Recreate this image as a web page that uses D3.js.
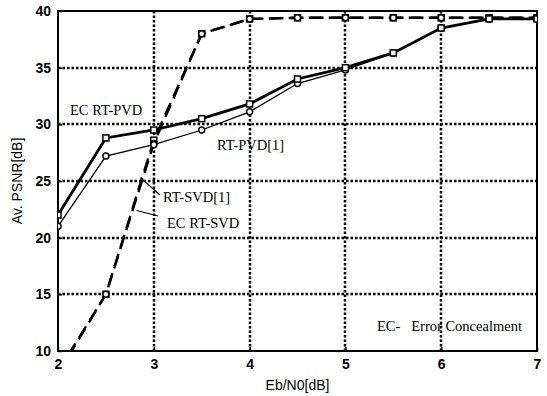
<!DOCTYPE html>
<html>
<head>
<meta charset="utf-8">
<script src="https://cdn.jsdelivr.net/npm/d3@7"></script>
<style>
body { margin: 0; background: #fff; }
svg text { fill: #000; }
</style>
</head>
<body>
<div id="chart"></div>
<script>
// values
const ebn0 = [2, 2.5, 3, 3.5, 4, 4.5, 5, 5.5, 6, 6.5, 7];
const ecRtPvd = [22, 28.8, 29.5, 30.5, 31.8, 34, 35, 36.3, 38.5, 39.3, 39.3];
const rtPvd = [21, 27.2, 28.2, 29.5, 31.1, 33.6, 34.8, 36.3, 38.5, 39.3, 39.3];
const rtSvd = [8, 15, 28.3, 38, 39.3, 39.4, 39.4, 39.4, 39.4, 39.4, 39.4];
const ecRtSvd = [8.2, 15, 28.6, 38, 39.3, 39.4, 39.4, 39.4, 39.4, 39.4, 39.4];
const xTicks = [2, 3, 4, 5, 6, 7];
const yTicks = [10, 15, 20, 25, 30, 35, 40];

const width = 547, height = 396;
const margin = {top: 11, right: 10, bottom: 45, left: 58};

const svg = d3.select('#chart')
	.append('svg')
	.attr('width', width)
	.attr('height', height);

const xScale = d3.scaleLinear()
	.domain([2, 7])
	.range([margin.left, width - margin.right]);

const yScale = d3.scaleLinear()
	.domain([10, 40])
	.range([height - margin.bottom, margin.top]);

svg.append('defs').append('clipPath')
	.attr('id', 'plot')
	.append('rect')
	.attr('x', margin.left)
	.attr('y', margin.top)
	.attr('width', width - margin.left - margin.right)
	.attr('height', height - margin.top - margin.bottom);

// dotted grid
svg.append('g')
	.selectAll('line')
	.data(xTicks.slice(1, -1))
	.enter()
	.append('line')
	.attr('x1', d => Math.round(xScale(d)))
	.attr('x2', d => Math.round(xScale(d)))
	.attr('y1', yScale(10))
	.attr('y2', yScale(40))
	.attr('stroke', '#000')
	.attr('stroke-width', 2.5)
	.attr('stroke-dasharray', '2.5,2');

svg.append('g')
	.selectAll('line')
	.data(yTicks.slice(1, -1))
	.enter()
	.append('line')
	.attr('x1', xScale(2))
	.attr('x2', xScale(7))
	.attr('y1', d => Math.round(yScale(d)))
	.attr('y2', d => Math.round(yScale(d)))
	.attr('stroke', '#000')
	.attr('stroke-width', 2.5)
	.attr('stroke-dasharray', '2.5,2');

// axes
const xAxis = g => g
	.attr('transform', `translate(0,${yScale(10)})`)
	.call(d3.axisBottom(xScale).tickValues(xTicks).tickSize(-4).tickPadding(8).tickFormat(d3.format('d')))
	.call(g => g.select('.domain').remove());

const yAxis = g => g
	.attr('transform', `translate(${xScale(2)},0)`)
	.call(d3.axisLeft(yScale).tickValues(yTicks).tickSize(-4).tickPadding(7).tickFormat(d3.format('d')))
	.call(g => g.select('.domain').remove());

svg.append('g').call(xAxis);
svg.append('g').call(yAxis);

svg.selectAll('.tick text')
	.attr('font-family', 'Liberation Sans, Arial, sans-serif')
	.attr('font-size', 14)
	.attr('font-weight', 'bold');
svg.selectAll('.tick line').attr('stroke-width', 1.5);

svg.append('rect')
	.attr('x', xScale(2))
	.attr('y', yScale(40))
	.attr('width', xScale(7) - xScale(2))
	.attr('height', yScale(10) - yScale(40))
	.attr('fill', 'none')
	.attr('stroke', '#000')
	.attr('stroke-width', 2);

// series
const line = d3.line()
	.x((d, i) => xScale(ebn0[i]))
	.y(d => yScale(d));

const plot = svg.append('g').attr('clip-path', 'url(#plot)');

function drawSeries(values, width, dash, marker) {
	plot.append('path')
		.datum(values)
		.attr('d', line)
		.attr('fill', 'none')
		.attr('stroke', '#000')
		.attr('stroke-width', width)
		.attr('stroke-dasharray', dash);

	const pts = values.map((v, i) => [ebn0[i], v]).filter(d => d[1] >= 10);
	if (marker == 'square') {
		plot.append('g')
			.selectAll('rect')
			.data(pts)
			.enter()
			.append('rect')
			.attr('x', d => xScale(d[0]) - 3)
			.attr('y', d => yScale(d[1]) - 3)
			.attr('width', 6)
			.attr('height', 6)
			.attr('fill', '#fff')
			.attr('stroke', '#000')
			.attr('stroke-width', 1.5);
	} else {
		plot.append('g')
			.selectAll('circle')
			.data(pts)
			.enter()
			.append('circle')
			.attr('cx', d => xScale(d[0]))
			.attr('cy', d => yScale(d[1]))
			.attr('r', 3)
			.attr('fill', '#fff')
			.attr('stroke', '#000')
			.attr('stroke-width', 1.5);
	}
}

drawSeries(ecRtSvd, 2.4, '13,7', 'square');
drawSeries(rtSvd, 2.4, '13,7', 'circle');
drawSeries(rtPvd, 1.3, null, 'circle');
drawSeries(ecRtPvd, 2.8, null, 'square');

// annotations
const serif = 'Liberation Serif, Times New Roman, serif';
function label(x, y, txt) {
	svg.append('text')
		.attr('x', x)
		.attr('y', y)
		.attr('font-family', serif)
		.attr('font-size', 14.5)
		.style('white-space', 'pre')
		.text(txt);
}
label(70, 115, 'EC RT-PVD');
label(217, 150, 'RT-PVD[1]');
label(163, 202, 'RT-SVD[1]');
label(167, 228, 'EC RT-SVD');
label(377, 331, 'EC-   Error Concealment');

// pointer lines from labels to the dashed curve
svg.append('line')
	.attr('x1', 160).attr('y1', 195)
	.attr('x2', xScale(2.86)).attr('y2', yScale(25.3))
	.attr('stroke', '#000').attr('stroke-width', 1.2);
svg.append('line')
	.attr('x1', 158).attr('y1', 216)
	.attr('x2', xScale(2.82)).attr('y2', yScale(22.4))
	.attr('stroke', '#000').attr('stroke-width', 1.2);

// axis titles
svg.append('text')
	.attr('x', (xScale(2) + xScale(7)) / 2)
	.attr('y', 390)
	.attr('text-anchor', 'middle')
	.attr('font-family', 'Liberation Sans, Arial, sans-serif')
	.attr('font-size', 14)
	.text('Eb/N0[dB]');

svg.append('text')
	.attr('transform', `translate(22,${yScale(25)}) rotate(-90)`)
	.attr('text-anchor', 'middle')
	.attr('font-family', 'Liberation Sans, Arial, sans-serif')
	.attr('font-size', 14)
	.text('Av. PSNR[dB]');
</script>
</body>
</html>
